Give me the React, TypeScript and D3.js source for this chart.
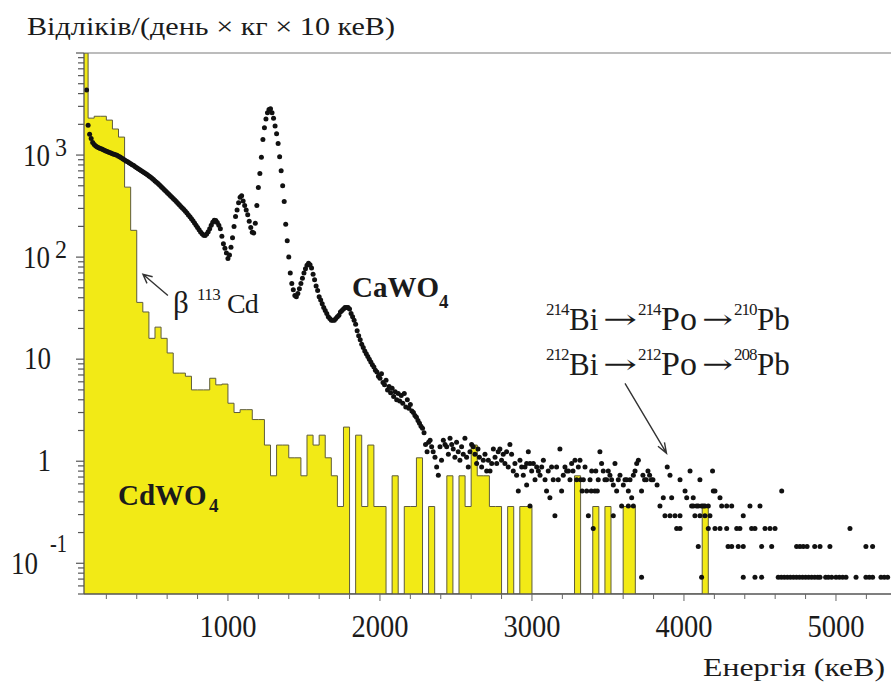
import React from "react";
import * as d3 from "d3";

const W = 891,
  H = 688;
const plot = { left: 84, right: 891, top: 53, bottom: 594 };

// CdWO4 histogram: 40 keV bins starting at 40 keV (counts / day / kg / 10 keV)
const cdStart = 40;
const cdBin = 40;
const cdWO4 = [
  20000, 2300, 2400, 2400, 2200, 1800, 1500, 485, 183, 36, 29, 16, 20.6, 16, 11.5, 7.3, 7.3, 6.8, 5.0, 5.0,
  5.0, 6.5, 5.6, 5.7, 3.7, 3.0, 3.2, 3.2, 2.56, 2.56, 1.44, 0.72, 1.44, 1.44, 1.08, 1.08, 0.72, 1.8, 1.44, 1.8,
  1.08, 0.72, 0.36, 2.16, 0, 1.8, 0.36, 1.44, 0.36, 0.36, 0, 0.72, 0, 0.36, 0.36, 1.08, 0, 0.36, 0, 0,
  0.72, 0, 0.72, 0.36, 1.44, 0.72, 0.72, 0.36, 0.36, 0, 0.36, 0, 0.36, 0.36, 0, 0, 0, 0, 0, 0,
  0, 0.72, 0, 0, 0.36, 0, 0.36, 0, 0, 0.36, 0.36, 0, 0, 0, 0, 0, 0, 0, 0, 0,
  0, 0, 0.36, 0,
];

// CaWO4 spectrum, 10 keV grid from 70 keV up to 2290 keV
const caStart = 70;
const caStep = 10;
const caWO4 = [
  4350, 1960, 1600, 1450, 1330, 1270, 1230, 1200, 1180, 1160,
  1145, 1130, 1110, 1090, 1075, 1060, 1045, 1030, 1020, 1005,
  995, 975, 955, 935, 915, 895, 875, 858, 840, 822,
  805, 790, 770, 752, 735, 718, 700, 685, 670, 655,
  640, 625, 610, 592, 575, 558, 540, 525, 508, 492,
  476, 460, 445, 430, 416, 402, 388, 375, 362, 350,
  338, 326, 314, 303, 292, 281, 270, 259, 249, 238,
  227, 216, 205, 195, 185, 176, 169, 164, 163, 168,
  177, 190, 205, 220, 230, 228, 218, 205, 190, 160,
  135, 122, 110, 97, 105, 125, 155, 200, 250, 290,
  340, 385, 400, 355, 320, 290, 260, 225, 195, 175,
  172, 215, 320, 480, 660, 950, 1420, 1850, 2250, 2600,
  2800, 2850, 2600, 2300, 1930, 1620, 1300, 960, 700, 500,
  350, 210, 145, 100, 70, 55, 48, 42, 41, 44,
  49, 55, 62, 70, 77, 83, 87, 84, 78, 68,
  60, 52, 47, 41, 38, 35, 32, 30, 28, 26,
  25, 24, 24, 24, 25, 26, 27, 29, 30, 31,
  32, 32, 32, 31, 28, 26, 24, 22, 19, 17,
  15.5, 14, 13, 12, 11.3, 10.6, 10, 9.4, 8.8, 8.4,
  7.8, 7.5, 6.8, 6.5, 7.2, 5.9, 5.6, 6.2, 5.0, 5.4,
  4.7, 5.2, 4.3, 4.8, 4.0, 4.6, 3.9, 4.4, 3.7, 4.6,
  3.4, 4.0, 3.3, 3.6, 3.1, 3.0, 2.8, 2.7, 2.5, 2.35,
  2.2, 2.1, 1.9,
];

// CaWO4 high-energy tail: [energy keV, counts]; one count = caCountUnit
const caCountUnit = 0.073;
const caWO4Tail: [number, number][] = [
  [2300, 20], [2310, 17], [2320, 21], [2330, 22], [2340, 19], [2350, 17], [2362, 15], [2373, 12], [2384, 10], [2395, 19],
  [2405, 14], [2417, 22], [2428, 20], [2439, 19], [2450, 16], [2461, 23], [2472, 20], [2482, 18], [2493, 15], [2504, 21],
  [2515, 17], [2526, 14], [2537, 19], [2548, 16], [2559, 23], [2570, 15], [2581, 12], [2592, 17], [2603, 20], [2614, 19],
  [2625, 16], [2636, 13], [2645, 18], [2654, 15], [2669, 12], [2680, 14], [2691, 16], [2702, 11], [2713, 14], [2724, 11],
  [2735, 13], [2746, 18], [2757, 15], [2768, 13], [2778, 17], [2789, 18], [2800, 14], [2811, 16], [2822, 13], [2833, 17],
  [2844, 12], [2855, 20], [2866, 16], [2877, 11], [2888, 13], [2899, 10], [2910, 7], [2921, 14], [2932, 12], [2943, 10],
  [2954, 12], [2965, 13], [2965, 8], [2976, 17], [2987, 13], [2987, 5], [2998, 11], [3009, 13], [3020, 9], [3031, 12],
  [3042, 11], [3053, 10], [3064, 12], [3075, 14], [3086, 9], [3096, 7], [3107, 11], [3118, 6], [3129, 12], [3140, 9],
  [3151, 4], [3162, 12], [3173, 9], [3184, 18], [3195, 7], [3206, 10], [3217, 12], [3228, 11], [3240, 11], [3250, 9],
  [3261, 13], [3270, 11], [3283, 14], [3294, 9], [3305, 12], [3316, 14], [3320, 9], [3330, 7], [3338, 9], [3349, 12],
  [3360, 7], [3371, 4], [3382, 9], [3390, 7], [3393, 11], [3403, 3], [3414, 7], [3420, 11], [3430, 7], [3436, 9],
  [3447, 17], [3458, 13], [3469, 11], [3480, 9], [3491, 9], [3502, 11], [3513, 10], [3524, 9], [3535, 8], [3535, 4],
  [3546, 13], [3557, 7], [3568, 9], [3579, 10], [3590, 5], [3601, 8], [3612, 9], [3623, 9], [3634, 7], [3634, 5],
  [3645, 9], [3656, 6], [3667, 10], [3667, 5], [3678, 11], [3689, 13], [3700, 14],
  [3721, 1], [3721, 7], [3730, 10], [3741, 9], [3752, 9], [3763, 11], [3774, 10], [3785, 9], [3796, 9], [3823, 8],
  [3842, 5], [3864, 6], [3875, 4], [3890, 12], [3908, 10], [3908, 4], [3919, 6], [3941, 4], [3952, 3], [3974, 9],
  [3974, 4], [3974, 3], [4007, 7], [4018, 6], [4040, 11], [4050, 5], [4061, 6], [4061, 5], [4072, 4], [4083, 5],
  [4094, 2], [4094, 5], [4105, 9], [4105, 4], [4116, 1], [4116, 5], [4127, 5], [4138, 4], [4138, 5], [4160, 5],
  [4160, 3], [4171, 4], [4188, 11], [4193, 7], [4204, 7], [4204, 3], [4237, 6], [4237, 3], [4248, 5], [4281, 5],
  [4281, 3], [4290, 2], [4314, 5], [4314, 2], [4347, 3], [4357, 2], [4368, 3], [4390, 4], [4390, 2], [4390, 1],
  [4434, 5], [4445, 3], [4467, 3], [4467, 1], [4500, 5], [4511, 2], [4511, 1], [4533, 3], [4566, 3], [4577, 2],
  [4599, 3], [4620, 1], [4640, 1], [4643, 7], [4660, 1], [4680, 1], [4700, 1], [4720, 1], [4741, 2], [4740, 1],
  [4760, 1], [4763, 2], [4780, 1], [4785, 2], [4800, 1], [4810, 2], [4820, 1], [4840, 1], [4860, 2], [4860, 1],
  [4880, 1], [4895, 2], [4895, 1], [4932, 1], [4950, 1], [4960, 2], [4972, 1], [5000, 1], [5022, 1], [5044, 1],
  [5066, 1], [5092, 3], [5132, 1], [5197, 2], [5197, 1], [5219, 1], [5241, 2], [5241, 1], [5296, 1], [5318, 1],
  [5340, 1],
];

const xTicks = [1000, 2000, 3000, 4000, 5000];
const yTickLabels = [
  { v: 1000, base: "10", exp: "3" },
  { v: 100, base: "10", exp: "2" },
  { v: 10, base: "10", exp: "" },
  { v: 1, base: "1", exp: "" },
  { v: 0.1, base: "10", exp: "-1" },
];
const decayChains = [
  ["214", "214", "210"],
  ["212", "212", "208"],
];

const serif = "'Liberation Serif', 'Times New Roman', serif";
const ink = "#1b1b1b";

const x = d3.scaleLinear().domain([53, 5362]).range([plot.left, plot.right]);
const y = d3.scaleLog().domain([0.05, 1e4]).range([plot.bottom, plot.top]).clamp(true);
const yv = (v: number) => (v > 0 ? y(v) : y(0.05));

function T(props: any) {
  const { x, y, s, size, w, bold, anchor, family } = props;
  return (
    <text
      x={x}
      y={y}
      fontSize={size}
      fontFamily={family || serif}
      fontWeight={bold ? "bold" : "normal"}
      textAnchor={anchor || "start"}
      textLength={w}
      lengthAdjust="spacingAndGlyphs"
      fill={ink}
    >
      {s}
    </text>
  );
}

// isotope: superscript mass number + element symbol in a single text element
function Iso(props: any) {
  const { x, y, mass, sym, size } = props;
  return (
    <text fontFamily={serif} fill={ink}>
      <tspan x={x} y={y - 15} fontSize={17} letterSpacing={-1}>
        {mass}
      </tspan>
      <tspan x={x + 23} y={y} fontSize={size || 31}>
        {sym}
      </tspan>
    </text>
  );
}

function arrowPath(x1: number, y1: number, x2: number, y2: number, len = 10, ang = 0.42) {
  const a = Math.atan2(y2 - y1, x2 - x1);
  const p1 = [x2 - len * Math.cos(a - ang), y2 - len * Math.sin(a - ang)];
  const p2 = [x2 - len * Math.cos(a + ang), y2 - len * Math.sin(a + ang)];
  return `M${x1},${y1}L${x2},${y2}M${p1[0]},${p1[1]}L${x2},${y2}L${p2[0]},${p2[1]}`;
}

export default function App() {
  const cdPts: [number, number][] = cdWO4.map((v, i) => [cdStart + i * cdBin, v]);
  cdPts.push([cdStart + cdWO4.length * cdBin, 0]);

  const area = d3
    .area<[number, number]>()
    .curve(d3.curveStepAfter)
    .x((d) => x(d[0]))
    .y0(plot.bottom)
    .y1((d) => yv(d[1]));
  const outline = d3
    .line<[number, number]>()
    .curve(d3.curveStepAfter)
    .x((d) => x(d[0]))
    .y((d) => yv(d[1]));

  const dots: [number, number][] = [
    ...caWO4.map((v, i) => [caStart + i * caStep, v] as [number, number]),
    ...caWO4Tail.map(([e, n]) => [e, n * caCountUnit] as [number, number]),
  ];

  const minorX = d3.range(200, 5400, 200);
  const yTicks: { v: number; major: boolean }[] = [];
  for (let d = -2; d <= 3; d++) {
    for (let m = 1; m <= 9; m++) {
      const v = m * Math.pow(10, d);
      if (v >= 0.05 && v <= 1e4) yTicks.push({ v, major: m === 1 });
    }
  }
  yTicks.push({ v: 1e4, major: true });

  // annotation arrows (in data coordinates)
  const betaArrow = arrowPath(x(605), y(42), x(441), y(68), 10, 0.45);
  const chainArrow = arrowPath(x(3612), y(5.8), x(3885), y(1.2), 11, 0.35);

  return (
    <svg width={W} height={H} style={{ position: "absolute", left: 0, top: 0, background: "#fff" }}>
      <defs>
        <clipPath id="plotClip">
          <rect x={plot.left} y={plot.top} width={plot.right - plot.left} height={plot.bottom - plot.top} />
        </clipPath>
      </defs>
      <rect width={W} height={H} fill="#fff" />

      <g clipPath="url(#plotClip)">
        <path d={area(cdPts) || ""} fill="#f2ea16" />
        <path d={outline(cdPts) || ""} fill="none" stroke="#5e5c3c" strokeWidth={1} />
        {dots.map(([e, v], i) => (
          <circle key={i} cx={x(e)} cy={y(v)} r={2.5} fill="#111" />
        ))}
      </g>

      {/* frame */}
      <line x1={plot.left} x2={plot.right} y1={plot.top} y2={plot.top} stroke="#7a7a7a" strokeWidth={1.2} />
      <line x1={plot.left} x2={plot.left} y1={plot.top} y2={plot.bottom} stroke="#555" strokeWidth={1.3} />
      <line x1={plot.left} x2={plot.right} y1={plot.bottom} y2={plot.bottom} stroke="#555" strokeWidth={1.3} />

      {/* x ticks */}
      {minorX.map((e) => (
        <line
          key={e}
          x1={x(e)}
          x2={x(e)}
          y1={plot.bottom}
          y2={plot.bottom + (e % 1000 === 0 ? 7 : 5)}
          stroke="#666"
          strokeWidth={1}
        />
      ))}
      {xTicks.map((e) => (
        <T key={e} x={x(e)} y={637} s={String(e)} size={32} w={57} anchor="middle" />
      ))}

      {/* y ticks */}
      {yTicks.map((t, i) => (
        <line
          key={i}
          x1={plot.left - (t.major ? 8 : 6)}
          x2={plot.left}
          y1={y(t.v)}
          y2={y(t.v)}
          stroke="#555"
          strokeWidth={1.2}
        />
      ))}
      {yTickLabels.map((t) => {
        const ty = y(t.v);
        if (!t.exp) {
          return <T key={t.v} x={51} y={ty + 10} s={t.base} size={31} w={t.base.length * 13.5} anchor="end" />;
        }
        const neg = t.exp.startsWith("-");
        return (
          <g key={t.v}>
            <T x={neg ? 38 : 50} y={ty + 11} s={t.base} size={31} w={27} anchor="end" />
            <T x={neg ? 50 : 55} y={neg ? ty - 11 : ty + 1} s={t.exp} size={25} w={neg ? 17 : 12} />
          </g>
        );
      })}

      {/* axis titles */}
      <T x={27} y={35} s="Відліків/(день × кг × 10 кеВ)" size={25} w={368} />
      <T x={703} y={676} s="Енергія (кеВ)" size={25} w={182} />

      {/* labels */}
      <text fontFamily={serif} fontWeight="bold" fill={ink}>
        <tspan x={352} y={297} fontSize={29}>
          CaWO
        </tspan>
        <tspan x={439} y={308} fontSize={19}>
          4
        </tspan>
      </text>
      <text fontFamily={serif} fontWeight="bold" fill={ink}>
        <tspan x={118} y={505} fontSize={29}>
          CdWO
        </tspan>
        <tspan x={209} y={512} fontSize={19}>
          4
        </tspan>
      </text>

      <text fontFamily={serif} fill={ink}>
        <tspan x={173} y={313} fontSize={31}>
          β
        </tspan>
        <tspan x={197} y={300} fontSize={17} letterSpacing={-0.5}>
          113
        </tspan>
        <tspan x={227} y={313} fontSize={28} letterSpacing={-1}>
          Cd
        </tspan>
      </text>
      <path d={betaArrow} fill="none" stroke="#333" strokeWidth={1.4} />

      {/* decay chains */}
      {decayChains.map((r, i) => {
        const base = 330 + i * 45;
        return (
          <g key={i}>
            <Iso x={546} y={base} mass={r[0]} sym="Bi" />
            <T x={603} y={base - 2} s="→" size={26} w={34} family="'DejaVu Serif', serif" />
            <Iso x={638} y={base} mass={r[1]} sym="Po" size={34} />
            <T x={702} y={base - 2} s="→" size={26} w={31} family="'DejaVu Serif', serif" />
            <Iso x={734} y={base} mass={r[2]} sym="Pb" />
          </g>
        );
      })}
      <path d={chainArrow} fill="none" stroke="#333" strokeWidth={1.4} />
    </svg>
  );
}
